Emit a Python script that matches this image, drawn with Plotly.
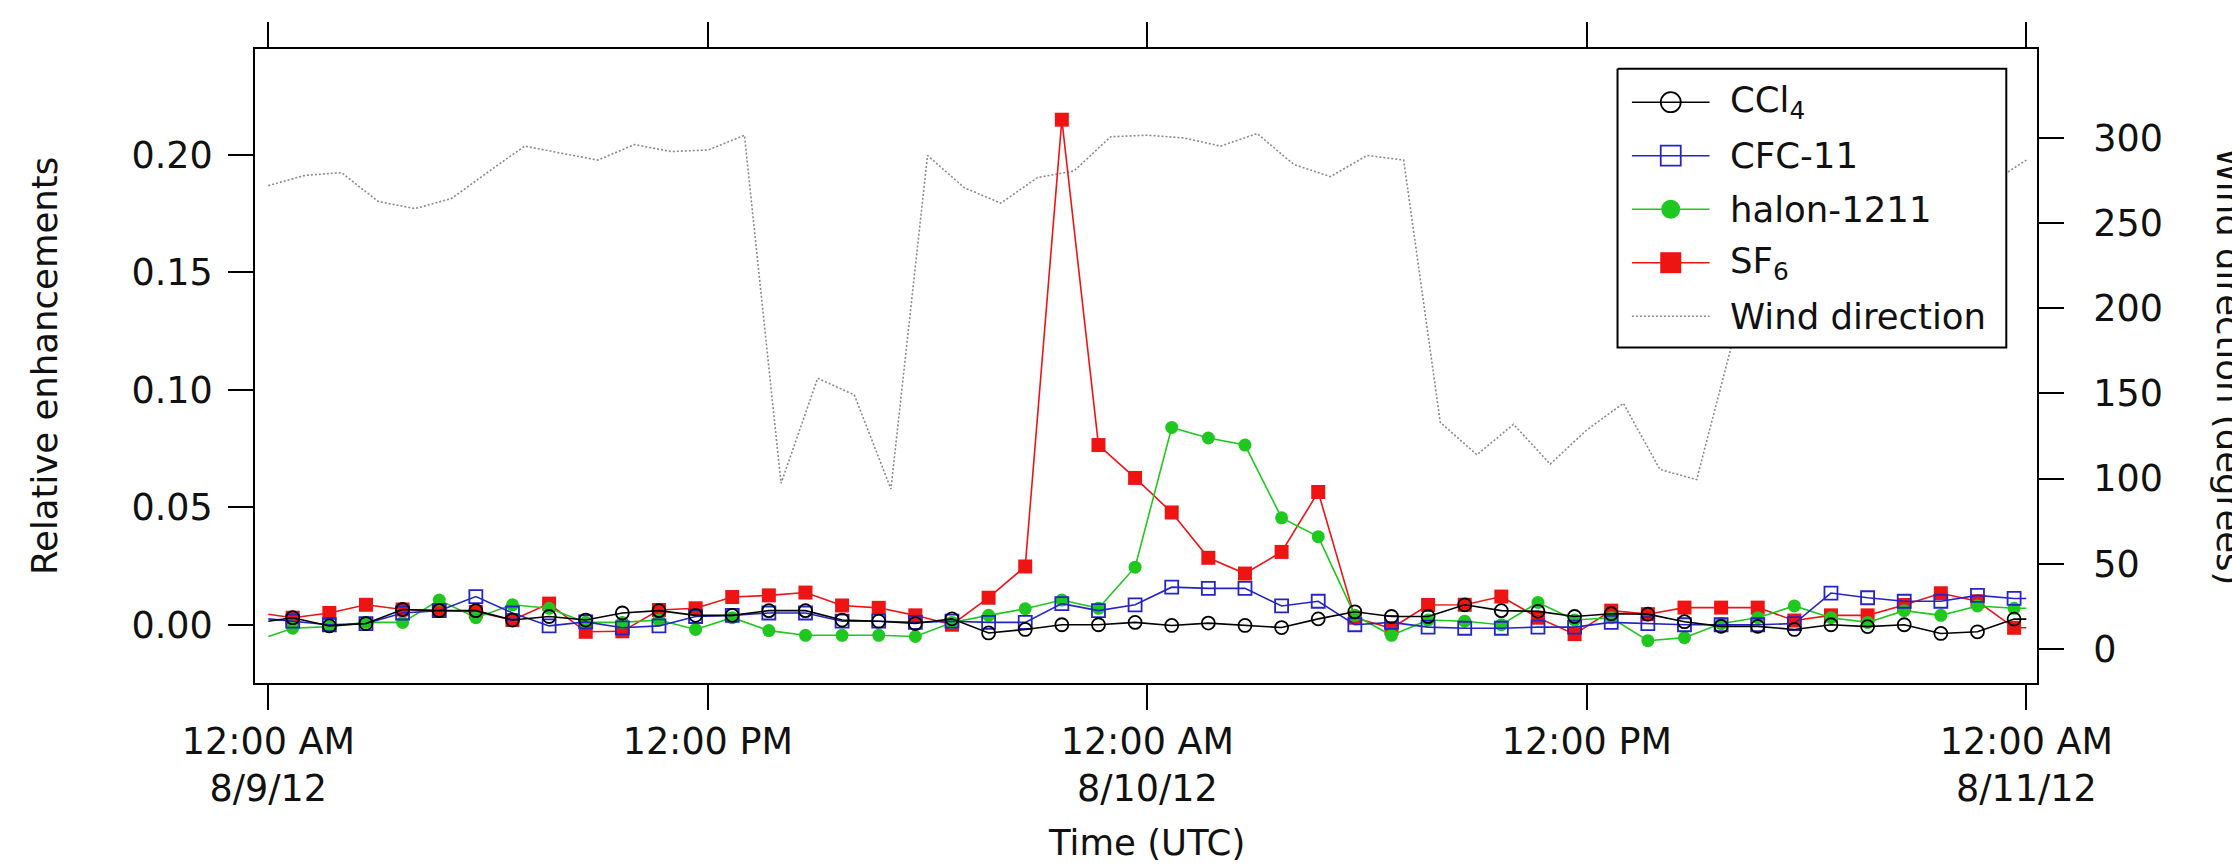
import plotly.graph_objects as go
from datetime import datetime, timedelta

# ---------------------------------------------------------------------------
# Data
# ---------------------------------------------------------------------------
START = datetime(2012, 8, 9)

# Hourly relative enhancements, samples stamped HH:40 from 8/9 00:40 to
# 8/10 23:40.  First and last entries are the line ends at 00:00 8/9 and
# 00:00 8/11 (drawn without a marker).
ccl4 = [0.0015,
        0.003, -0.0005, 0.0005, 0.0065, 0.006, 0.006, 0.002, 0.0035, 0.002, 0.005,
        0.006, 0.004, 0.004, 0.006, 0.006, 0.002, 0.0015, 0.0005, 0.0025, -0.0035,
        -0.002, 0.0, 0.0, 0.001, -0.0003, 0.0007, -0.0003, -0.0012, 0.0025, 0.0055,
        0.0035, 0.0035, 0.0085, 0.006, 0.0057, 0.0035, 0.0047, 0.0045, 0.0013, -0.0007,
        -0.0007, -0.002, 0.0, -0.0008, 0.0, -0.0037, -0.003, 0.0024,
        0.0024]
cfc11 = [0.0025,
         0.0015, 0.0, 0.0005, 0.005, 0.006, 0.012, 0.005, -0.0005, 0.0012, -0.0013,
         -0.0005, 0.0035, 0.004, 0.005, 0.005, 0.0015, 0.0015, 0.001, 0.0015, 0.001,
         0.001, 0.009, 0.006, 0.0085, 0.016, 0.0155, 0.0155, 0.008, 0.010, 0.0,
         0.001, -0.001, -0.0015, -0.0015, -0.001, -0.001, 0.001, 0.0005, 0.0, 0.0,
         0.0, 0.0005, 0.0135, 0.0115, 0.010, 0.010, 0.0125, 0.0112,
         0.0112]
halon1211 = [-0.005,
             -0.0015, -0.0008, 0.001, 0.001, 0.0105, 0.003, 0.0085, 0.007, 0.001, 0.001,
             0.002, -0.002, 0.003, -0.0025, -0.0045, -0.0045, -0.0045, -0.005, 0.001, 0.004,
             0.0068, 0.0105, 0.007, 0.0245, 0.084, 0.0795, 0.0765, 0.0455, 0.0375, 0.004,
             -0.0045, 0.002, 0.0015, 0.0, 0.0095, 0.002, 0.003, -0.0068, -0.0055, 0.0005,
             0.003, 0.008, 0.003, 0.001, 0.006, 0.004, 0.008, 0.007,
             0.007]
sf6 = [0.0045,
       0.003, 0.005, 0.0085, 0.0065, 0.006, 0.0055, 0.002, 0.009, -0.003, -0.0028,
       0.0063, 0.007, 0.0118, 0.0125, 0.0137, 0.0082, 0.0072, 0.004, 0.0, 0.0115,
       0.0248, 0.215, 0.0765, 0.0625, 0.0478, 0.0285, 0.0218, 0.031, 0.0565, 0.003,
       -0.0015, 0.0084, 0.0085, 0.012, 0.003, -0.004, 0.006, 0.0045, 0.0073, 0.0073,
       0.0073, 0.0018, 0.004, 0.004, 0.0084, 0.0134, 0.010, -0.0013,
       -0.0013]

# Hourly wind direction (degrees), 8/9 00:00 .. 8/11 00:00; gaps are bridged
wind_dir = [272, 278, 279.6, 262.7, 258.5, 264.4, 280, 295.2, 291, 287,
            296.1, 292, 292.9, 301.6, 97.2, 158.9, 149.1, 93.9, 289.7, 270.8,
            261.7, 276.7, 280.6, 300.7, 301.6, 300, 295.2, 302.6, 284.4, 277.3,
            289.7, 287, 133, 114, 131.9, 108.5, 128.6, 144.2, 105.3, 99.4,
            182, None, None, None, None, None, None, 273, 287]

x_tick_times = ["2012-08-09 00:00", "2012-08-09 12:00", "2012-08-10 00:00",
                "2012-08-10 12:00", "2012-08-11 00:00"]
x_tick_text = ["12:00 AM<br>8/9/12", "12:00 PM", "12:00 AM<br>8/10/12",
               "12:00 PM", "12:00 AM<br>8/11/12"]
enh_ticks = [0.0, 0.05, 0.10, 0.15, 0.20]
wind_ticks = [0, 50, 100, 150, 200, 250, 300]

sample_times = ([START]
                + [START + timedelta(hours=h, minutes=40) for h in range(48)]
                + [START + timedelta(hours=48)])
wind_times = [START + timedelta(hours=h) for h in range(49)]

# ---------------------------------------------------------------------------
# Styles
# ---------------------------------------------------------------------------
FONT = "DejaVu Sans"
TXT = "#111111"
TICK_SIZE = 36.5
LABEL_SIZE = 35.5
WIND_COLOR = "#8a8a8a"

chem_series = [
    ("CCl<sub>4</sub>", ccl4, dict(color="#000000", symbol="circle-open", size=13, lw=1.8, leg=20)),
    ("CFC-11", cfc11, dict(color="#2424c8", symbol="square-open", size=13, lw=1.8, leg=20)),
    ("halon-1211", halon1211, dict(color="#1ec81e", symbol="circle", size=13, lw=0, leg=19)),
    ("SF<sub>6</sub>", sf6, dict(color="#ee1414", symbol="square", size=14, lw=0, leg=21)),
]

marker_opacity = [0] + [1] * 48 + [0]

fig = go.Figure()

# wind direction, right-hand axis, drawn underneath the tracer series
fig.add_trace(go.Scatter(
    x=wind_times, y=wind_dir, mode="lines", connectgaps=True,
    line=dict(color=WIND_COLOR, width=1.6, dash="2px,2px"),
    xaxis="x", yaxis="y", showlegend=False, hoverinfo="skip"))

# tracer series on the left-hand axis
for name, vals, s in reversed(chem_series):
    fig.add_trace(go.Scatter(
        x=sample_times, y=vals, mode="lines+markers", name=name,
        line=dict(color=s["color"], width=1.6),
        marker=dict(symbol=s["symbol"], size=s["size"], color=s["color"],
                    opacity=marker_opacity,
                    line=dict(color=s["color"], width=s["lw"])),
        xaxis="x", yaxis="y2", showlegend=False))

# ---------------------------------------------------------------------------
# Legend, laid out on a hidden overlay measured in figure pixels
# ---------------------------------------------------------------------------
PLOT_L, PLOT_R, PLOT_T, PLOT_B = 255.0, 2036.7, 49.3, 683.3
LEG_X0, LEG_Y0, LEG_X1, LEG_Y1 = 1617.3, 69.0, 2006.0, 347.7
LEG_ROWS = [102.5, 156.0, 209.5, 263.0, 316.5]
LEG_LINE = (1631.7, 1709.3)
LEG_TEXT_X = 1728.0

fig.add_trace(go.Scatter(
    x=[LEG_X0, LEG_X1, LEG_X1, LEG_X0, LEG_X0],
    y=[LEG_Y0, LEG_Y0, LEG_Y1, LEG_Y1, LEG_Y0],
    mode="lines", fill="toself", fillcolor="white",
    line=dict(color="black", width=2),
    xaxis="x2", yaxis="y3", showlegend=False, hoverinfo="skip"))

legend_entries = [(n, s) for n, _, s in chem_series] + [("Wind direction", None)]
annotations = []
for (name, s), ry in zip(legend_entries, LEG_ROWS):
    if s is None:
        fig.add_trace(go.Scatter(
            x=list(LEG_LINE), y=[ry, ry], mode="lines",
            line=dict(color=WIND_COLOR, width=1.6, dash="2px,2px"),
            xaxis="x2", yaxis="y3", showlegend=False, hoverinfo="skip"))
    else:
        fig.add_trace(go.Scatter(
            x=list(LEG_LINE), y=[ry, ry], mode="lines",
            line=dict(color=s["color"], width=1.6),
            xaxis="x2", yaxis="y3", showlegend=False, hoverinfo="skip"))
        fig.add_trace(go.Scatter(
            x=[(LEG_LINE[0] + LEG_LINE[1]) / 2], y=[ry], mode="markers",
            marker=dict(symbol=s["symbol"], size=s["leg"], color=s["color"],
                        line=dict(color=s["color"], width=s["lw"])),
            xaxis="x2", yaxis="y3", showlegend=False, hoverinfo="skip"))
    annotations.append(dict(
        x=LEG_TEXT_X, y=ry, xref="x2", yref="y3", text=name, showarrow=False,
        xanchor="left", yanchor="middle",
        font=dict(family=FONT, size=LABEL_SIZE, color=TXT)))

# axis titles
annotations += [
    dict(text="Relative enhancements", xref="paper", yref="paper", x=0, y=0.5,
         xshift=-211, xanchor="center", yanchor="middle", textangle=-90,
         showarrow=False, font=dict(family=FONT, size=LABEL_SIZE, color=TXT)),
    dict(text="Wind direction (degrees)", xref="paper", yref="paper", x=1, y=0.5,
         xshift=170, xanchor="left", yanchor="middle", textangle=90,
         showarrow=False, font=dict(family=FONT, size=LABEL_SIZE, color=TXT)),
    dict(text="Time (UTC)", xref="paper", yref="paper", x=0.5, y=0,
         yshift=-(843 - PLOT_B), xanchor="center", yanchor="middle",
         showarrow=False, font=dict(family=FONT, size=LABEL_SIZE, color=TXT)),
]

axis_common = dict(
    showgrid=False, zeroline=False, showline=True, linecolor="black", linewidth=2,
    ticks="outside", ticklen=25, tickwidth=2, tickcolor="black",
    tickfont=dict(family=FONT, size=TICK_SIZE, color=TXT))

fig.update_layout(
    width=2232, height=867, autosize=False,
    margin=dict(l=PLOT_L, r=2232 - PLOT_R, t=PLOT_T, b=867 - PLOT_B, pad=0),
    paper_bgcolor="white", plot_bgcolor="white",
    showlegend=False,
    xaxis=dict(type="date", range=["2012-08-08 23:38:12", "2012-08-11 00:17:32"],
               tickmode="array", tickvals=x_tick_times, ticktext=x_tick_text,
               mirror="ticks", anchor="y", **axis_common),
    yaxis=dict(side="right", range=[-20, 352.2], tickmode="array",
               tickvals=wind_ticks, ticklabelstandoff=22, anchor="x", **axis_common),
    yaxis2=dict(side="left", overlaying="y", range=[-0.0248, 0.2451],
                tickmode="array", tickvals=enh_ticks, tickformat=".2f",
                ticklabelstandoff=8, anchor="x", **axis_common),
    xaxis2=dict(overlaying="x", visible=False, range=[PLOT_L, PLOT_R],
                anchor="y3", fixedrange=True),
    yaxis3=dict(overlaying="y", visible=False, range=[PLOT_B, PLOT_T],
                anchor="x2", fixedrange=True),
    annotations=annotations,
)

fig.write_html("out.html")
